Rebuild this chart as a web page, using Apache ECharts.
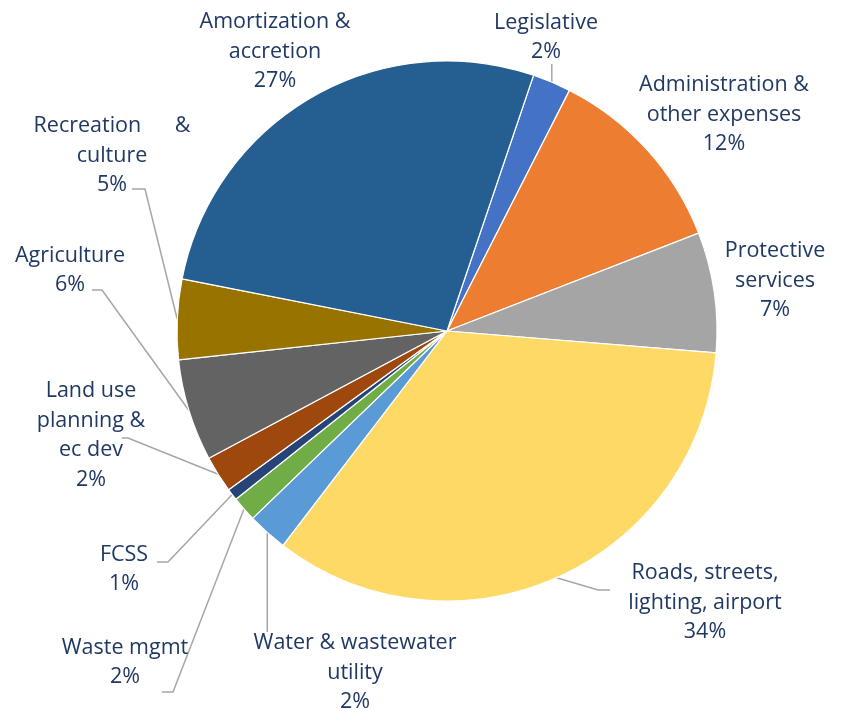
<!DOCTYPE html>
<html>
<head>
<meta charset="utf-8">
<script src="https://cdn.jsdelivr.net/npm/echarts@6/dist/echarts.min.js"></script>
<style>
  html, body { margin: 0; padding: 0; background: #ffffff; }
  #chart { width: 842px; height: 709px; }
</style>
</head>
<body>
<div id="chart"></div>
<script>
// Expense categories, clockwise from the first slice
const categories = [
  'Legislative',
  'Administration &\nother expenses',
  'Protective\nservices',
  'Roads, streets,\nlighting, airport',
  'Water & wastewater\nutility',
  'Waste mgmt',
  'FCSS',
  'Land use\nplanning &\nec dev',
  'Agriculture',
  'Recreation      &\nculture',
  'Amortization &\naccretion'
];

// Share of total expenses, in percent
const shares = [2.3, 11.6, 7.2, 34.1, 2.4, 1.5, 0.7, 2.2, 6.1, 4.8, 27.1];

const sliceColors = [
  '#4472C4', '#ED7D31', '#A5A5A5', '#FFD966', '#5B9BD5', '#70AD47',
  '#264478', '#9E480E', '#636363', '#997300', '#255E91'
];

// Centre of each label block (px)
const labelAnchors = [
  [546, 37.5], [724, 114.5], [775, 280.5], [705, 602.5], [355, 672.5], [125, 662.5],
  [124, 569.5], [91, 435.5], [70, 270.5], [112, 155.5], [275, 51.5]
];

// Leader line bend and end points (null = no leader line;
// a null x keeps the line vertical from the slice edge)
const leaderBends = [
  [[null, 70], [null, 64]],
  null,
  null,
  [[598, 590], [610, 590]],
  [[null, 600], [null, 632]],
  [[173, 692], [162, 692]],
  [[168, 562], [157, 562]],
  [[128, 438], [122, 438]],
  [[102, 290], [92, 290]],
  [[145, 189], [132, 189]],
  null
];

const total = shares.reduce((a, b) => a + b, 0);

const pieData = categories.map((name, i) => ({
  name: name,
  value: shares[i],
  itemStyle: { color: sliceColors[i] },
  labelLine: { show: leaderBends[i] !== null }
}));

const chart = echarts.init(document.getElementById('chart'), null, { renderer: 'canvas' });

chart.setOption({
  backgroundColor: '#ffffff',
  animation: false,
  series: [{
    type: 'pie',
    center: [447, 331],
    radius: 270,
    startAngle: 71.3,
    clockwise: true,
    avoidLabelOverlap: false,
    data: pieData,
    itemStyle: { borderColor: '#ffffff', borderWidth: 1.2 },
    label: {
      show: true,
      position: 'outside',
      formatter: p => p.name + '\n' + Math.round(p.value / total * 100) + '%',
      color: '#203864',
      fontFamily: 'Open Sans',
      fontSize: 21.5,
      lineHeight: 29.5,
      align: 'center'
    },
    labelLine: {
      show: true,
      lineStyle: { color: '#A6A6A6', width: 1.5 }
    },
    labelLayout: function (p) {
      const i = p.dataIndex;
      const out = {
        x: labelAnchors[i][0],
        y: labelAnchors[i][1],
        align: 'center',
        verticalAlign: 'middle'
      };
      const bend = leaderBends[i];
      if (bend && p.labelLinePoints) {
        const s = p.labelLinePoints[0];
        const pts = bend.map(b => [b[0] === null ? s[0] : b[0], b[1]]);
        out.labelLinePoints = [s, pts[0], pts[1]];
      }
      return out;
    },
    emphasis: { disabled: true }
  }]
});
</script>
</body>
</html>
